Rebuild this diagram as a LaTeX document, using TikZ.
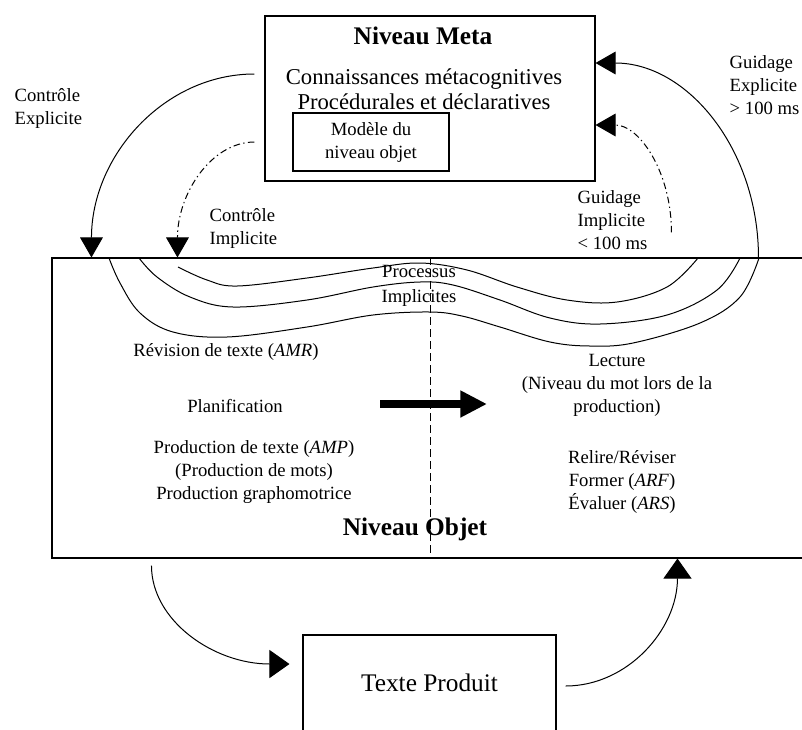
\documentclass[tikz,border=0pt]{standalone}
\usepackage{fontspec}
\setmainfont{Liberation Serif}
\usetikzlibrary{positioning, arrows.meta, calc}

\begin{document}
\begin{tikzpicture}[
        x=0.75pt, y=-0.75pt,
        level/.style={draw, rectangle, line width=0.8pt, inner sep=0pt},
        title/.style={font=\fontsize{19}{22}\selectfont\bfseries},
        lbl/.style={font=\fontsize{14}{17.25}\selectfont, align=center},
        side/.style={font=\fontsize{14}{17.25}\selectfont, align=left, anchor=west},
        arrow/.style={-{Triangle[length=15pt, width=17pt]}, line width=0.75pt},
        lowarrow/.style={-{Triangle[length=15pt, width=21pt]}, line width=0.75pt},
        dashdot/.style={dash pattern=on 5pt off 2.5pt on 1pt off 2.5pt},
        wave/.style={line width=0.75pt, smooth, tension=0.6},
        bigarrow/.style={-{Triangle[length=20pt, width=19pt]}, line width=6pt}
    ]
    \clip (0,0) rectangle (802,729);

    % Levels
    \node[level, minimum width=247.5pt, minimum height=123.75pt] (meta) at (430,98.5) {};
    \node[level, minimum width=570pt, minimum height=225pt] (objet) at (432,408) {};
    \node[level, lbl, minimum width=117pt, minimum height=43.5pt] (modele) at (371,142) {Modèle du\\niveau objet};
    \node[level, font=\fontsize{19}{22}\selectfont, minimum width=189.75pt, minimum height=72pt] (texte) at (429.5,683) {Texte Produit};

    % Meta text
    \node[title] (metatitle) at (423,36) {Niveau Meta};
    \node[font=\fontsize{17}{19}\selectfont, align=center] (metaknow) at (424,89) {Connaissances métacognitives\\Procédurales et déclaratives};

    % Side labels
    \node[side] (ctrlexp) at (10,108) {Contrôle\\Explicite};
    \node[side] (ctrlimp) at (205,228) {Contrôle\\Implicite};
    \node[side] (guidexp) at (725,85) {Guidage\\Explicite\\> 100 ms};
    \node[side] (guidimp) at (573,220) {Guidage\\Implicite\\< 100 ms};

    % Objet text
    \node[lbl, font=\fontsize{14}{18.75}\selectfont] (processus) at (419,286) {Processus\\Implicites};
    \node[lbl] (revision) at (226,352) {Révision de texte (\textit{AMR})};
    \node[lbl] (planif) at (235,406) {Planification};
    \node[lbl] (production) at (254,472) {Production de texte (\textit{AMP})\\(Production de mots)\\Production graphomotrice};
    \node[lbl] (lecture) at (617,385) {Lecture\\(Niveau du mot lors de la\\production)};
    \node[lbl] (relire) at (622,482) {Relire/Réviser\\Former (\textit{ARF})\\Évaluer (\textit{ARS})};
    \node[title] (objtitle) at (415,529) {Niveau Objet};

    \draw[line width=0.75pt, dash pattern=on 6pt off 3pt] (430,0 |- objet.north) -- (430,0 |- objet.south);

    % Control and guidance
    \draw[arrow] ($(meta.west)+(-10,-24.5)$) .. controls +(-90,0) and +(0,-102) .. ($(objet.north west)+(40,0)$);
    \draw[arrow, dashdot] ($(meta.west)+(-10,43.5)$) .. controls +(-43,0) and +(0,-64) .. ($(objet.north west)+(126,0)$);
    \draw[arrow] ($(objet.north west)+(707,0)$) .. controls +(0,-108) and +(92,0) .. ($(meta.east)+(0,-35.5)$);
    \draw[arrow, dashdot] ($(objet.north west)+(620,-25)$) .. controls +(0,-60) and +(44,0) .. ($(meta.east)+(0,26.5)$);

    % Implicit processes
    \draw[wave] plot coordinates {(109,258) (120,283) (140,313) (173,332) (227,337) (307,327) (373,315) (430,312) (462,316) (500,327) (550,342) (590,346) (633,343) (700,323) (740,297) (759,258)};
    \draw[wave] plot coordinates {(139,258) (157,277) (190,297) (233,307) (307,300) (373,287) (420,282) (453,285) (500,300) (550,318) (600,324) (667,315) (717,290) (740,258)};
    \draw[wave] plot coordinates {(178,267) (207,280) (237,286) (307,278) (373,268) (420,263) (467,270) (517,287) (567,300) (617,302) (667,287) (698,258)};

    % Planning to reading
    \coordinate (planout) at (380,404);
    \coordinate (lecin) at (487,404);
    \draw[bigarrow] (planout) -- (lecin);

    % Text produced
    \draw[lowarrow] ($(objet.south west)+(100,7)$) .. controls +(0,55) and +(-76,0) .. ($(texte.west)+(-13,-19)$);
    \draw[lowarrow] ($(texte.east)+(9,3)$) .. controls +(62,0) and +(0,71) .. ($(objet.south west)+(626,0)$);

\end{tikzpicture}
\end{document}
